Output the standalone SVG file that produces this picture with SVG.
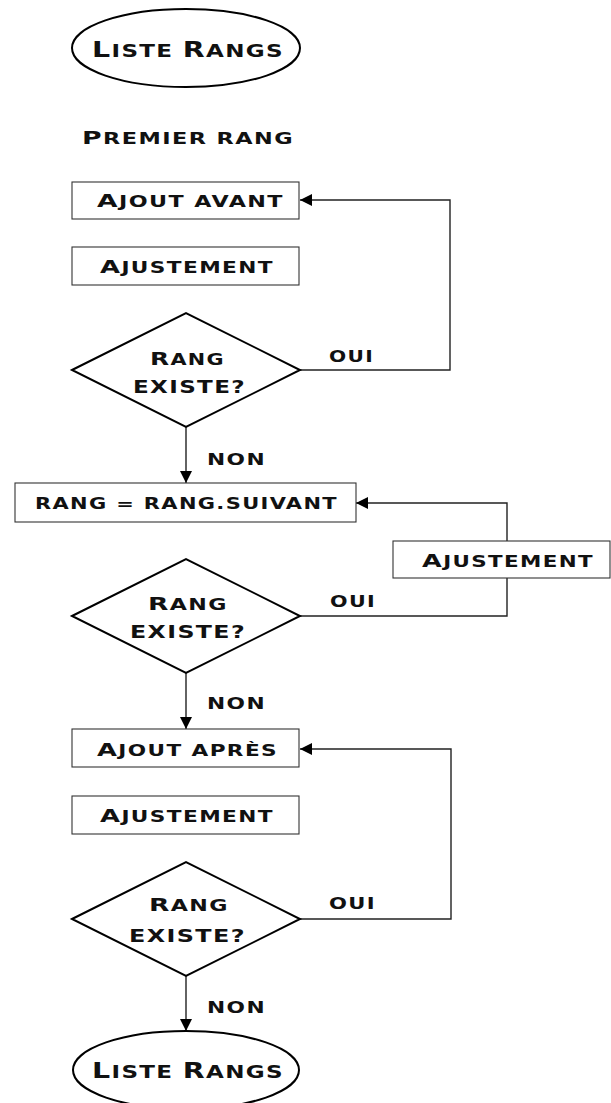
<svg xmlns="http://www.w3.org/2000/svg" width="611" height="1103" viewBox="0 0 611 1103">
<style>
text{font-family:"DejaVu Sans","Liberation Sans",sans-serif;font-weight:bold;fill:#111;font-size:18.5px;letter-spacing:1px}
.s{font-size:15.5px;text-transform:uppercase}
.big{font-size:21px}
.big .s{font-size:17px}
.lbl{font-size:15.5px;text-transform:uppercase}
.box{fill:#fff;stroke:#333;stroke-width:1.1}
.dia{fill:#fff;stroke:#000;stroke-width:2}
.ell{fill:#fff;stroke:#000;stroke-width:2}
.con{fill:none;stroke:#222;stroke-width:1.4}
</style>
<defs>
<marker id="arr" markerUnits="userSpaceOnUse" markerWidth="12" markerHeight="12" refX="12" refY="6" orient="auto">
<path d="M0,0 L12,6 L0,12 z" fill="#000"/>
</marker>
</defs>
<g id="connectors">
<path class="con" d="M300,370 H450 V200 H300" marker-end="url(#arr)"/>
<path class="con" d="M186,427 V483" marker-end="url(#arr)"/>
<path class="con" d="M300,616 H507 V578"/>
<path class="con" d="M507,541 V503 H356" marker-end="url(#arr)"/>
<path class="con" d="M186,673 V729" marker-end="url(#arr)"/>
<path class="con" d="M300,919 H451 V749 H300" marker-end="url(#arr)"/>
<path class="con" d="M186,976 V1031" marker-end="url(#arr)"/>
<text class="lbl" x="329" y="362" textLength="45" lengthAdjust="spacingAndGlyphs">oui</text>
<text class="lbl" x="207" y="465" textLength="59" lengthAdjust="spacingAndGlyphs">non</text>
<text class="lbl" x="330" y="607" textLength="46" lengthAdjust="spacingAndGlyphs">oui</text>
<text class="lbl" x="207" y="709" textLength="59" lengthAdjust="spacingAndGlyphs">non</text>
<text class="lbl" x="329" y="909" textLength="47" lengthAdjust="spacingAndGlyphs">oui</text>
<text class="lbl" x="207" y="1013" textLength="59" lengthAdjust="spacingAndGlyphs">non</text>
</g>
<g id="start">
<ellipse class="ell" cx="186" cy="48" rx="114" ry="39"/>
<text class="big" x="92" y="57" textLength="192" lengthAdjust="spacingAndGlyphs">L<tspan class="s">iste </tspan>R<tspan class="s">angs</tspan></text>
</g>
<g id="premier">
<text x="82" y="144" textLength="212" lengthAdjust="spacingAndGlyphs">P<tspan class="s">remier rang</tspan></text>
</g>
<g id="ajout-avant">
<rect class="box" x="72" y="182" width="227" height="37"/>
<text x="97" y="207" textLength="187" lengthAdjust="spacingAndGlyphs">A<tspan class="s">jout avant</tspan></text>
</g>
<g id="ajustement1">
<rect class="box" x="72" y="247" width="227" height="38"/>
<text x="100" y="273" textLength="174" lengthAdjust="spacingAndGlyphs">A<tspan class="s">justement</tspan></text>
</g>
<g id="test1">
<polygon class="dia" points="72,370 186,313 300,370 186,427"/>
<text x="150" y="365" textLength="75" lengthAdjust="spacingAndGlyphs">R<tspan class="s">ang</tspan></text>
<text class="lbl" x="133" y="393" textLength="113" lengthAdjust="spacingAndGlyphs" style="font-size:17px">existe?</text>
</g>
<g id="rang-suivant">
<rect class="box" x="15" y="483" width="341" height="39"/>
<text class="lbl" x="35" y="509" textLength="303" lengthAdjust="spacingAndGlyphs">rang = rang.suivant</text>
</g>
<g id="ajustement2">
<rect class="box" x="393" y="541" width="217" height="37"/>
<text x="422" y="567" textLength="172" lengthAdjust="spacingAndGlyphs">A<tspan class="s">justement</tspan></text>
</g>
<g id="test2">
<polygon class="dia" points="72,616 186,559 300,616 186,673"/>
<text x="148" y="610" textLength="80" lengthAdjust="spacingAndGlyphs">R<tspan class="s">ang</tspan></text>
<text class="lbl" x="130" y="638" textLength="116" lengthAdjust="spacingAndGlyphs" style="font-size:17px">existe?</text>
</g>
<g id="ajout-apres">
<rect class="box" x="72" y="729" width="227" height="38"/>
<text x="97" y="756" textLength="181" lengthAdjust="spacingAndGlyphs">A<tspan class="s">jout après</tspan></text>
</g>
<g id="ajustement3">
<rect class="box" x="72" y="796" width="227" height="38"/>
<text x="100" y="822" textLength="174" lengthAdjust="spacingAndGlyphs">A<tspan class="s">justement</tspan></text>
</g>
<g id="test3">
<polygon class="dia" points="72,919 186,862 300,919 186,976"/>
<text x="149" y="911" textLength="80" lengthAdjust="spacingAndGlyphs">R<tspan class="s">ang</tspan></text>
<text class="lbl" x="129" y="942" textLength="117" lengthAdjust="spacingAndGlyphs" style="font-size:17px">existe?</text>
</g>
<g id="end">
<ellipse class="ell" cx="186" cy="1070" rx="113" ry="39"/>
<text class="big" x="92" y="1078" textLength="192" lengthAdjust="spacingAndGlyphs">L<tspan class="s">iste </tspan>R<tspan class="s">angs</tspan></text>
</g>
</svg>
